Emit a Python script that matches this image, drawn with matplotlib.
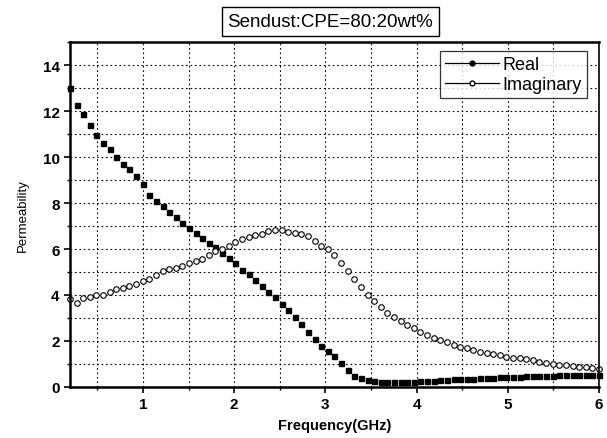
import matplotlib
matplotlib.use("Agg")
import matplotlib.pyplot as plt
from matplotlib.lines import Line2D
from matplotlib.ticker import MultipleLocator

plt.rcParams['font.family'] = ['Liberation Sans', 'DejaVu Sans']

# Frequency sweep (GHz), 81 points from 0.2 to 6.0
freq = [0.2, 0.2725, 0.345, 0.4175, 0.49, 0.5625, 0.635, 0.7075, 0.78, 0.8525,
        0.925, 0.9975, 1.07, 1.1425, 1.215, 1.2875, 1.36, 1.4325, 1.505, 1.5775,
        1.65, 1.7225, 1.795, 1.8675, 1.94, 2.0125, 2.085, 2.1575, 2.23, 2.3025,
        2.375, 2.4475, 2.52, 2.5925, 2.665, 2.7375, 2.81, 2.8825, 2.955, 3.0275,
        3.1, 3.1725, 3.245, 3.3175, 3.39, 3.4625, 3.535, 3.6075, 3.68, 3.7525,
        3.825, 3.8975, 3.97, 4.0425, 4.115, 4.1875, 4.26, 4.3325, 4.405, 4.4775,
        4.55, 4.6225, 4.695, 4.7675, 4.84, 4.9125, 4.985, 5.0575, 5.13, 5.2025,
        5.275, 5.3475, 5.42, 5.4925, 5.565, 5.6375, 5.71, 5.7825, 5.855, 5.9275,
        6.0]

real = [13.0, 12.28, 11.87, 11.38, 10.94, 10.61, 10.35, 10.0, 9.70, 9.48,
        9.19, 8.83, 8.36, 8.09, 7.88, 7.61, 7.39, 7.14, 6.91, 6.70,
        6.50, 6.28, 6.07, 5.84, 5.62, 5.39, 5.09, 4.92, 4.66, 4.41,
        4.13, 3.91, 3.62, 3.33, 3.04, 2.73, 2.41, 2.09, 1.78, 1.56,
        1.36, 1.04, 0.72, 0.48, 0.39, 0.32, 0.26, 0.22, 0.21, 0.21,
        0.22, 0.21, 0.21, 0.24, 0.26, 0.28, 0.30, 0.32, 0.33, 0.35,
        0.34, 0.36, 0.39, 0.40, 0.41, 0.42, 0.42, 0.44, 0.45, 0.46,
        0.46, 0.47, 0.48, 0.49, 0.50, 0.50, 0.51, 0.52, 0.52, 0.53,
        0.54]

imag = [3.81, 3.67, 3.86, 3.92, 3.98, 3.98, 4.15, 4.24, 4.32, 4.39,
        4.48, 4.60, 4.69, 4.85, 5.03, 5.12, 5.19, 5.25, 5.40, 5.49,
        5.58, 5.76, 5.92, 6.01, 6.14, 6.30, 6.43, 6.53, 6.60, 6.66,
        6.77, 6.84, 6.84, 6.74, 6.69, 6.64, 6.56, 6.36, 6.13, 6.00,
        5.74, 5.40, 5.05, 4.68, 4.33, 4.02, 3.75, 3.47, 3.23, 3.04,
        2.88, 2.71, 2.55, 2.41, 2.27, 2.15, 2.04, 1.95, 1.84, 1.76,
        1.68, 1.61, 1.54, 1.47, 1.42, 1.37, 1.32, 1.28, 1.24, 1.20,
        1.16, 1.10, 1.06, 1.02, 0.97, 0.94, 0.91, 0.88, 0.85, 0.82,
        0.80]

fig = plt.figure(figsize=(6.07, 4.39), dpi=100)
ax = fig.add_axes([0.1153, 0.1162, 0.8715, 0.7858])

ax.plot(freq, real, linestyle='none', marker='s', markersize=3.6,
        color='black', clip_on=False)
ax.plot(freq, imag, linestyle='none', marker='o', markersize=4,
        markerfacecolor='white', markeredgecolor='black',
        markeredgewidth=0.8, clip_on=False)

ax.set_xlim(0.2, 6.0)
ax.set_ylim(0, 15)
ax.xaxis.set_major_locator(MultipleLocator(1))
ax.xaxis.set_minor_locator(MultipleLocator(0.5))
ax.yaxis.set_major_locator(MultipleLocator(2))
ax.yaxis.set_minor_locator(MultipleLocator(1))
ax.grid(which='both', linestyle=(0, (1.5, 2.5)), color='black', linewidth=0.8)
ax.set_axisbelow(True)

ax.tick_params(which='major', direction='out', length=4, width=1.2,
               labelsize=11)
ax.tick_params(which='minor', direction='out', length=2.5, width=1)
for lab in ax.get_xticklabels() + ax.get_yticklabels():
    lab.set_fontweight('bold')
for side in ['left', 'bottom', 'top']:
    ax.spines[side].set_linewidth(1.8)
ax.spines['right'].set_linewidth(1.2)

ax.set_xlabel('Frequency(GHz)', fontsize=10.5, fontweight='bold', labelpad=5)
ax.set_ylabel('Permeability', fontsize=9.5, labelpad=10)

handles = [Line2D([], [], color='black', linewidth=0.9, marker='o',
                  markersize=3.5, markerfacecolor='black'),
           Line2D([], [], color='black', linewidth=0.9, marker='o',
                  markersize=3.5, markerfacecolor='white')]
leg = ax.legend(handles, ['Real', 'Imaginary'], loc='upper right',
                fontsize=13, frameon=True, fancybox=False, handlelength=3.0,
                handletextpad=0.2, borderpad=0.3, labelspacing=0.15,
                borderaxespad=0.2, bbox_to_anchor=(0.985, 0.985))
leg.get_frame().set_edgecolor('black')
leg.get_frame().set_linewidth(0.9)

fig.text(0.544, 0.949, 'Sendust:CPE=80:20wt%', ha='center', va='center',
         fontsize=13.5,
         bbox=dict(boxstyle='square,pad=0.3', facecolor='white',
                   edgecolor='black', linewidth=1.0))

fig.savefig('out.png', dpi=100)
